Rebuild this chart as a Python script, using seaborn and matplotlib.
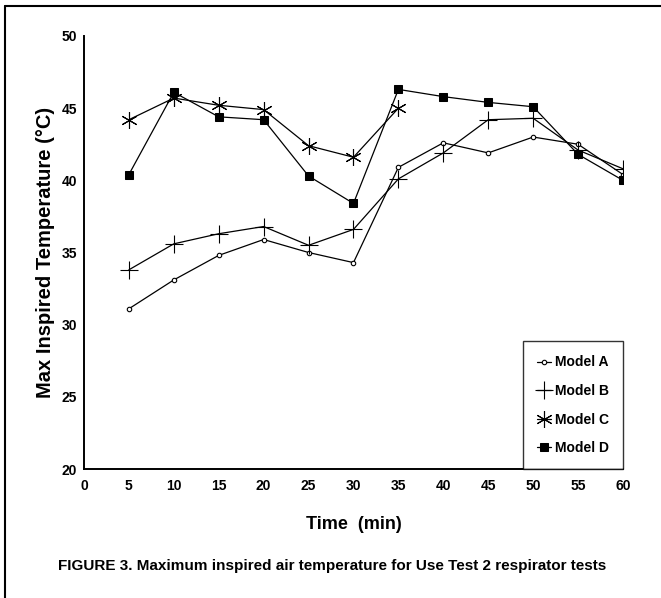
import matplotlib
matplotlib.use("Agg")
import matplotlib.pyplot as plt
import seaborn as sns
import pandas as pd
from matplotlib.lines import Line2D

sns.set_theme(style="white")
plt.rcParams['font.family'] = ['Liberation Sans', 'DejaVu Sans']
plt.rcParams['text.color'] = 'black'
plt.rcParams['axes.labelcolor'] = 'black'
plt.rcParams['xtick.color'] = 'black'
plt.rcParams['ytick.color'] = 'black'

times = [5, 10, 15, 20, 25, 30, 35, 40, 45, 50, 55, 60]
model_a = [31.1, 33.1, 34.8, 35.9, 35.0, 34.3, 40.9, 42.6, 41.9, 43.0, 42.5, 40.4]
model_b = [33.8, 35.6, 36.3, 36.8, 35.5, 36.6, 40.1, 41.9, 44.2, 44.3, 42.1, 40.8]
model_c = [44.2, 45.7, 45.2, 44.9, 42.4, 41.6, 45.0]
model_d = [40.4, 46.1, 44.4, 44.2, 40.3, 38.4, 46.3, 45.8, 45.4, 45.1, 41.8, 40.0]
labels = ["Model A", "Model B", "Model C", "Model D"]
xticks = [0, 5, 10, 15, 20, 25, 30, 35, 40, 45, 50, 55, 60]
yticks = [20, 25, 30, 35, 40, 45, 50]

fig = plt.figure(figsize=(6.61, 5.98), dpi=100)
ax = fig.add_axes([0.127, 0.2157, 0.8155, 0.7241])

styles = [
    dict(marker='o', markersize=3.2, markerfacecolor='white', markeredgecolor='black', markeredgewidth=0.8),
    dict(marker='+', markersize=13, markeredgewidth=0.8, markeredgecolor='black'),
    dict(marker=(6, 2, 0), markersize=12, markeredgewidth=0.8, markeredgecolor='black'),
    dict(marker='s', markersize=6, markerfacecolor='black', markeredgecolor='black'),
]
for lab, vals, st in zip(labels, [model_a, model_b, model_c, model_d], styles):
    df = pd.DataFrame({"Time": times[:len(vals)], "Temp": vals})
    sns.lineplot(data=df, x="Time", y="Temp", ax=ax, color='black', linewidth=0.9,
                 label=lab, legend=False, **st)

ax.set_xlim(0, 60)
ax.set_ylim(20, 50)
ax.set_xticks(xticks)
ax.set_yticks(yticks)
for s in ['top', 'right']:
    ax.spines[s].set_visible(False)
for s in ['left', 'bottom']:
    ax.spines[s].set_color('black')
    ax.spines[s].set_linewidth(1.4)
ax.tick_params(axis='both', direction='in', color='black', width=1.0, labelsize=10)
ax.tick_params(axis='y', length=9, pad=5)
ax.tick_params(axis='x', length=7, pad=7)
for t in ax.get_xticklabels() + ax.get_yticklabels():
    t.set_fontweight('bold')
ax.set_xlabel("Time  (min)", fontsize=13, fontweight='bold', labelpad=17)
ax.set_ylabel("Max Inspired Temperature (°C)", fontsize=14.5, fontweight='bold', labelpad=5)

leg = ax.legend(loc='lower right', bbox_to_anchor=(1.0, 0.0), borderaxespad=0,
                frameon=True, fancybox=False, edgecolor='black', handlelength=1.0,
                handletextpad=0.3, labelspacing=1.05, borderpad=1.0,
                prop={'weight': 'bold', 'size': 10})
leg.get_frame().set_linewidth(1.0)

fig.text(0.502, 0.054, "FIGURE 3. Maximum inspired air temperature for Use Test 2 respirator tests",
         ha='center', va='center', fontsize=11, fontweight='bold',
         family=['Liberation Sans', 'DejaVu Sans'])

fig.add_artist(Line2D([0.0075, 1.0], [0.99, 0.99], transform=fig.transFigure, color='black', lw=1.5))
fig.add_artist(Line2D([0.0075, 0.0075], [0.0, 0.99], transform=fig.transFigure, color='black', lw=1.5))

fig.savefig("out.png", dpi=100)
